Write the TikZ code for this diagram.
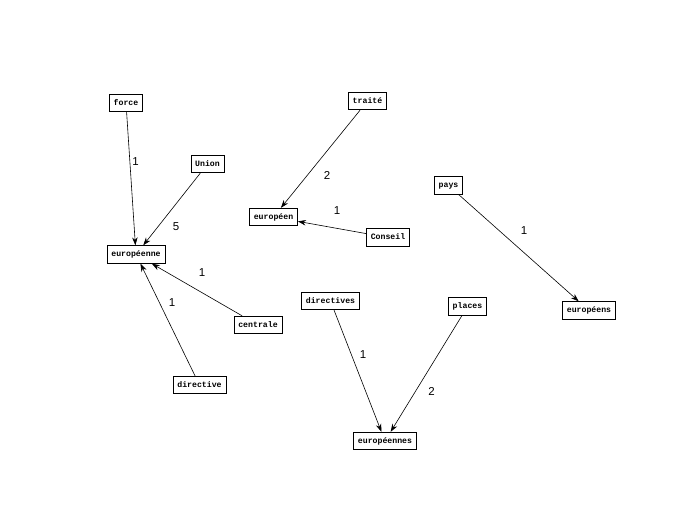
\documentclass[tikz,border=0pt]{standalone}
\usepackage{fontspec}
\setmainfont{Liberation Sans}
\newfontfamily\boxfont{Liberation Mono}
\usetikzlibrary{arrows.meta}
\begin{document}
\begin{tikzpicture}[x=1pt,y=-1pt,
  wbox/.style={draw=black,line width=0.8pt,fill=white,font=\boxfont\bfseries\fontsize{8.2}{9}\selectfont,inner xsep=4.3pt,inner ysep=0pt,minimum height=17.5pt,text height=6pt,text depth=1.5pt},
  conn/.style={line width=0.6pt,-{Stealth[length=8pt,width=5.5pt]}},
  wlab/.style={font=\fontsize{11.5}{12}\selectfont,inner sep=0pt}]
\useasboundingbox (0,0) rectangle (682,531);
\node[wbox] (force) at (126,103) {force};
\node[wbox] (union) at (207.5,164) {Union};
\node[wbox] (eurne) at (136,254.5) {européenne};
\node[wbox] (traite) at (367.5,101) {traité};
\node[wbox] (euren) at (273.5,217) {européen};
\node[wbox] (conseil) at (388,237.5) {Conseil};
\node[wbox] (pays) at (448.5,185.5) {pays};
\node[wbox] (eurns) at (589,310.5) {européens};
\node[wbox] (centrale) at (258,325) {centrale};
\node[wbox] (directive) at (199.5,385) {directive};
\node[wbox] (directives) at (330.5,301) {directives};
\node[wbox] (places) at (467.5,306.5) {places};
\node[wbox] (eurnes) at (385,441) {européennes};
\draw[conn] (force) -- (eurne);
\draw[conn] (union) -- (eurne);
\draw[conn] (centrale) -- (eurne);
\draw[conn] (directive) -- (eurne);
\draw[conn] (traite) -- (euren);
\draw[conn] (conseil) -- (euren);
\draw[conn] (pays) -- (eurns);
\draw[conn] (directives) -- (eurnes);
\draw[conn] (places) -- (eurnes);
\node[wlab] (l1) at (135.5,162) {1};
\node[wlab] (l2) at (176,226.5) {5};
\node[wlab] (l3) at (327,175.5) {2};
\node[wlab] (l4) at (337,211) {1};
\node[wlab] (l5) at (524,230.5) {1};
\node[wlab] (l6) at (202,273) {1};
\node[wlab] (l7) at (172,302.5) {1};
\node[wlab] (l8) at (363,355) {1};
\node[wlab] (l9) at (431.5,391) {2};
\end{tikzpicture}
\end{document}
